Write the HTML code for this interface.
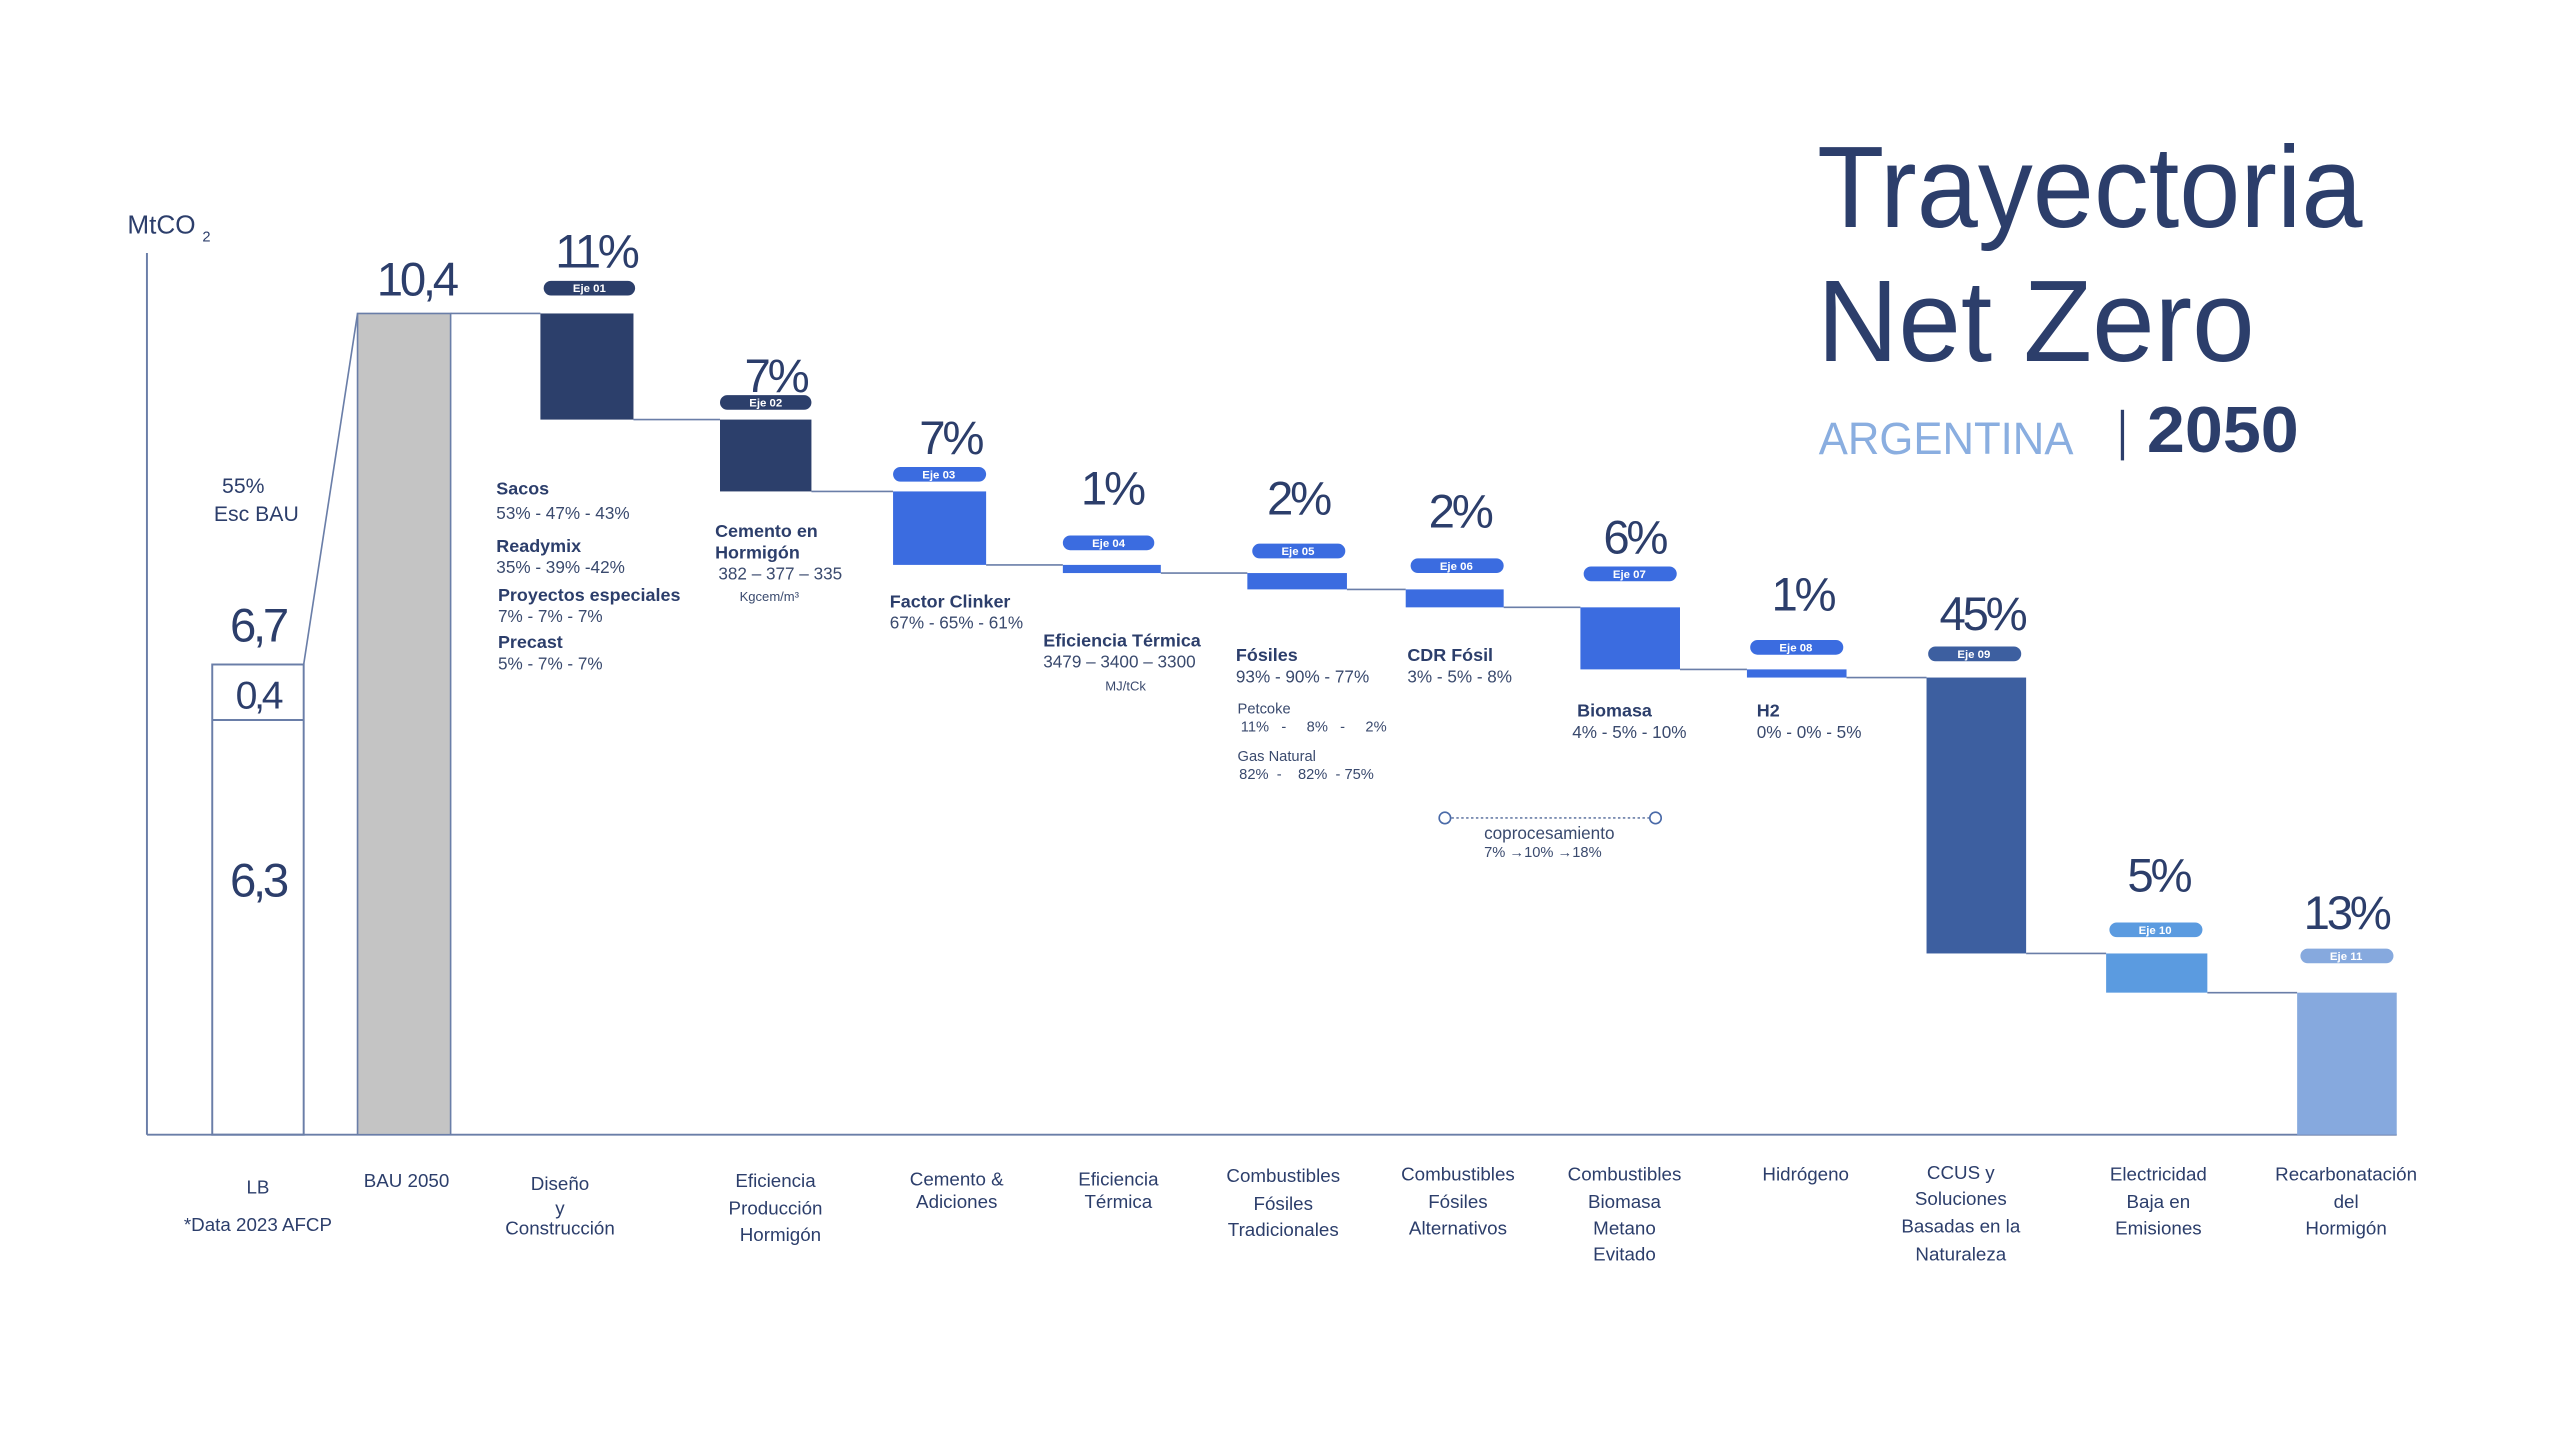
<!DOCTYPE html>
<html><head><meta charset="utf-8"><style>
html,body{margin:0;padding:0;background:#fff}
svg{display:block}
text{font-family:"Liberation Sans",sans-serif;fill:#2c3e6b}
.pct{font-size:29px;letter-spacing:-2px;text-anchor:middle}
.pill{font-size:7px;font-weight:bold;fill:#fff;text-anchor:middle}
.b{font-size:11px;font-weight:bold}
.n{font-size:10.5px;fill:#3a4a6e}
.s{font-size:9px;fill:#3a4a6e}
.cat{font-size:11.5px;text-anchor:middle;fill:#2c3e6b}
</style></head><body>
<svg width="2560" height="1440" viewBox="0 0 1568 882" xmlns="http://www.w3.org/2000/svg">
<rect width="1568" height="882" fill="#fff"/>
<!-- title -->
<text x="1113" y="139" textLength="334" lengthAdjust="spacingAndGlyphs" style="font-size:71px;fill:#2c3e6b">Trayectoria</text>
<text x="1113" y="221" textLength="268" lengthAdjust="spacingAndGlyphs" style="font-size:71px;fill:#2c3e6b">Net Zero</text>
<text x="1114" y="278" textLength="156" lengthAdjust="spacingAndGlyphs" style="font-size:28px;fill:#8aaee0">ARGENTINA</text>
<line x1="1300" y1="251" x2="1300" y2="282" stroke="#2c3e6b" stroke-width="2"/>
<text x="1315" y="277" textLength="93" lengthAdjust="spacingAndGlyphs" style="font-size:40px;font-weight:bold;fill:#2c3e6b">2050</text>
<!-- axes -->
<text x="78" y="143" style="font-size:16px">MtCO</text><text x="124" y="148" style="font-size:9px">2</text>
<line x1="90" y1="155" x2="90" y2="695" stroke="#6a7ea8" stroke-width="1.2"/>
<line x1="90" y1="695" x2="1468" y2="695" stroke="#6a7ea8" stroke-width="1.2"/>
<!-- LB -->
<rect x="130" y="407" width="56" height="288" fill="none" stroke="#6a7ea8" stroke-width="1.2"/>
<line x1="130" y1="441" x2="186" y2="441" stroke="#6a7ea8" stroke-width="1.2"/>
<text x="158" y="393" class="pct">6,7</text>
<text x="158" y="434" class="pct" style="font-size:24px">0,4</text>
<text x="158" y="549" class="pct">6,3</text>
<text x="136" y="302" style="font-size:13px">55%</text>
<text x="131" y="319" style="font-size:13px">Esc BAU</text>
<line x1="186" y1="407" x2="219" y2="192" stroke="#6a7ea8" stroke-width="1"/>
<!-- BAU -->
<rect x="219" y="192" width="57" height="503" fill="#c4c4c4" stroke="#6a7ea8" stroke-width="1"/>
<text x="255" y="181" class="pct">10,4</text>
<!-- connectors -->
<g stroke="#6a7ea8" stroke-width="1">
<line x1="276" y1="192" x2="331" y2="192"/>
<line x1="388" y1="257" x2="441" y2="257"/>
<line x1="497" y1="301" x2="547" y2="301"/>
<line x1="604" y1="346" x2="651" y2="346"/>
<line x1="711" y1="351" x2="764" y2="351"/>
<line x1="825" y1="361" x2="861" y2="361"/>
<line x1="921" y1="372" x2="968" y2="372"/>
<line x1="1029" y1="410" x2="1070" y2="410"/>
<line x1="1131" y1="415" x2="1180" y2="415"/>
<line x1="1241" y1="584" x2="1290" y2="584"/>
<line x1="1352" y1="608" x2="1407" y2="608"/>
</g>
<!-- bars -->
<rect x="331" y="192" width="57" height="65" fill="#2c3f6b"/>
<rect x="441" y="257" width="56" height="44" fill="#2c3f6b"/>
<rect x="547" y="301" width="57" height="45" fill="#3b6ce0"/>
<rect x="651" y="346" width="60" height="5" fill="#3b6ce0"/>
<rect x="764" y="351" width="61" height="10" fill="#3b6ce0"/>
<rect x="861" y="361" width="60" height="11" fill="#3b6ce0"/>
<rect x="968" y="372" width="61" height="38" fill="#3b6ce0"/>
<rect x="1070" y="410" width="61" height="5" fill="#3b6ce0"/>
<rect x="1180" y="415" width="61" height="169" fill="#3d5fa0"/>
<rect x="1290" y="584" width="62" height="24" fill="#5b9be0"/>
<rect x="1407" y="608" width="61" height="87" fill="#86a9de"/>
<!-- percents + pills -->
<g>
<text x="365" y="164" class="pct">11%</text><rect x="333" y="172" width="56" height="9" rx="4.5" fill="#2c3f6b"/><text x="361" y="179" class="pill">Eje 01</text>
<text x="475" y="240" class="pct">7%</text><rect x="441" y="242" width="56" height="9" rx="4.5" fill="#2c3f6b"/><text x="469" y="249" class="pill">Eje 02</text>
<text x="582" y="278" class="pct">7%</text><rect x="547" y="286" width="57" height="9" rx="4.5" fill="#3b6ce0"/><text x="575" y="293" class="pill">Eje 03</text>
<text x="681" y="309" class="pct">1%</text><rect x="651" y="328" width="56" height="9" rx="4.5" fill="#3b6ce0"/><text x="679" y="335" class="pill">Eje 04</text>
<text x="795" y="315" class="pct">2%</text><rect x="767" y="333" width="57" height="9" rx="4.5" fill="#3b6ce0"/><text x="795" y="340" class="pill">Eje 05</text>
<text x="894" y="323" class="pct">2%</text><rect x="864" y="342" width="57" height="9" rx="4.5" fill="#3b6ce0"/><text x="892" y="349" class="pill">Eje 06</text>
<text x="1001" y="339" class="pct">6%</text><rect x="970" y="347" width="57" height="9" rx="4.5" fill="#3b6ce0"/><text x="998" y="354" class="pill">Eje 07</text>
<text x="1104" y="374" class="pct">1%</text><rect x="1072" y="392" width="57" height="9" rx="4.5" fill="#3b6ce0"/><text x="1100" y="399" class="pill">Eje 08</text>
<text x="1214" y="386" class="pct">45%</text><rect x="1181" y="396" width="57" height="9" rx="4.5" fill="#3d5fa0"/><text x="1209" y="403" class="pill">Eje 09</text>
<text x="1322" y="546" class="pct">5%</text><rect x="1292" y="565" width="57" height="9" rx="4.5" fill="#5b9be0"/><text x="1320" y="572" class="pill">Eje 10</text>
<text x="1437" y="569" class="pct">13%</text><rect x="1409" y="581" width="57" height="9" rx="4.5" fill="#86a9de"/><text x="1437" y="588" class="pill">Eje 11</text>
</g>
<!-- annotations -->
<text x="304" y="303" class="b">Sacos</text>
<text x="304" y="318" class="n">53% - 47% - 43%</text>
<text x="304" y="338" class="b">Readymix</text>
<text x="304" y="351" class="n">35% - 39% -42%</text>
<text x="305" y="368" class="b">Proyectos especiales</text>
<text x="305" y="381" class="n">7% - 7% - 7%</text>
<text x="305" y="397" class="b">Precast</text>
<text x="305" y="410" class="n">5% - 7% - 7%</text>
<text x="438" y="329" class="b">Cemento en</text>
<text x="438" y="342" class="b">Hormigón</text>
<text x="440" y="355" class="n">382 – 377 – 335</text>
<text x="453" y="368" class="s" style="font-size:8px">Kgcem/m³</text>
<text x="545" y="372" class="b">Factor Clinker</text>
<text x="545" y="385" class="n">67% - 65% - 61%</text>
<text x="639" y="396" class="b">Eficiencia Térmica</text>
<text x="639" y="409" class="n">3479 – 3400 – 3300</text>
<text x="677" y="423" class="s" style="font-size:8px">MJ/tCk</text>
<text x="757" y="405" class="b">Fósiles</text>
<text x="757" y="418" class="n">93% - 90% - 77%</text>
<text x="758" y="437" class="s">Petcoke</text>
<text x="760" y="448" class="s" xml:space="preserve">11%   -     8%   -     2%</text>
<text x="758" y="466" class="s">Gas Natural</text>
<text x="759" y="477" class="s" xml:space="preserve">82%  -    82%  - 75%</text>
<text x="862" y="405" class="b">CDR Fósil</text>
<text x="862" y="418" class="n">3% - 5% - 8%</text>
<text x="966" y="439" class="b">Biomasa</text>
<text x="963" y="452" class="n">4% - 5% - 10%</text>
<text x="1076" y="439" class="b">H2</text>
<text x="1076" y="452" class="n">0% - 0% - 5%</text>
<line x1="889" y1="501" x2="1010" y2="501" stroke="#6a7ea8" stroke-width="1" stroke-dasharray="1.5,1.5"/>
<circle cx="885" cy="501" r="3.5" fill="#fff" stroke="#4a6aa8" stroke-width="1"/>
<circle cx="1014" cy="501" r="3.5" fill="#fff" stroke="#4a6aa8" stroke-width="1"/>
<text x="909" y="514" class="n">coprocesamiento</text>
<text x="909" y="525" class="s">7% →10% →18%</text>
<!-- categories -->
<text x="158" y="731" class="cat">LB</text>
<text x="158" y="754" class="cat">*Data 2023 AFCP</text>
<text x="249" y="727" class="cat">BAU 2050</text>
<text x="343" y="729" class="cat">Diseño</text><text x="343" y="744" class="cat">y</text><text x="343" y="756" class="cat">Construcción</text>
<text x="475" y="727" class="cat">Eficiencia</text><text x="475" y="744" class="cat">Producción</text><text x="478" y="760" class="cat">Hormigón</text>
<text x="586" y="726" class="cat">Cemento &amp;</text><text x="586" y="740" class="cat">Adiciones</text>
<text x="685" y="726" class="cat">Eficiencia</text><text x="685" y="740" class="cat">Térmica</text>
<text x="786" y="724" class="cat">Combustibles</text><text x="786" y="741" class="cat">Fósiles</text><text x="786" y="757" class="cat">Tradicionales</text>
<text x="893" y="723" class="cat">Combustibles</text><text x="893" y="740" class="cat">Fósiles</text><text x="893" y="756" class="cat">Alternativos</text>
<text x="995" y="723" class="cat">Combustibles</text><text x="995" y="740" class="cat">Biomasa</text><text x="995" y="756" class="cat">Metano</text><text x="995" y="772" class="cat">Evitado</text>
<text x="1106" y="723" class="cat">Hidrógeno</text>
<text x="1201" y="722" class="cat">CCUS y</text><text x="1201" y="738" class="cat">Soluciones</text><text x="1201" y="755" class="cat">Basadas en la</text><text x="1201" y="772" class="cat">Naturaleza</text>
<text x="1322" y="723" class="cat">Electricidad</text><text x="1322" y="740" class="cat">Baja en</text><text x="1322" y="756" class="cat">Emisiones</text>
<text x="1437" y="723" class="cat">Recarbonatación</text><text x="1437" y="740" class="cat">del</text><text x="1437" y="756" class="cat">Hormigón</text>
</svg>
</body></html>
